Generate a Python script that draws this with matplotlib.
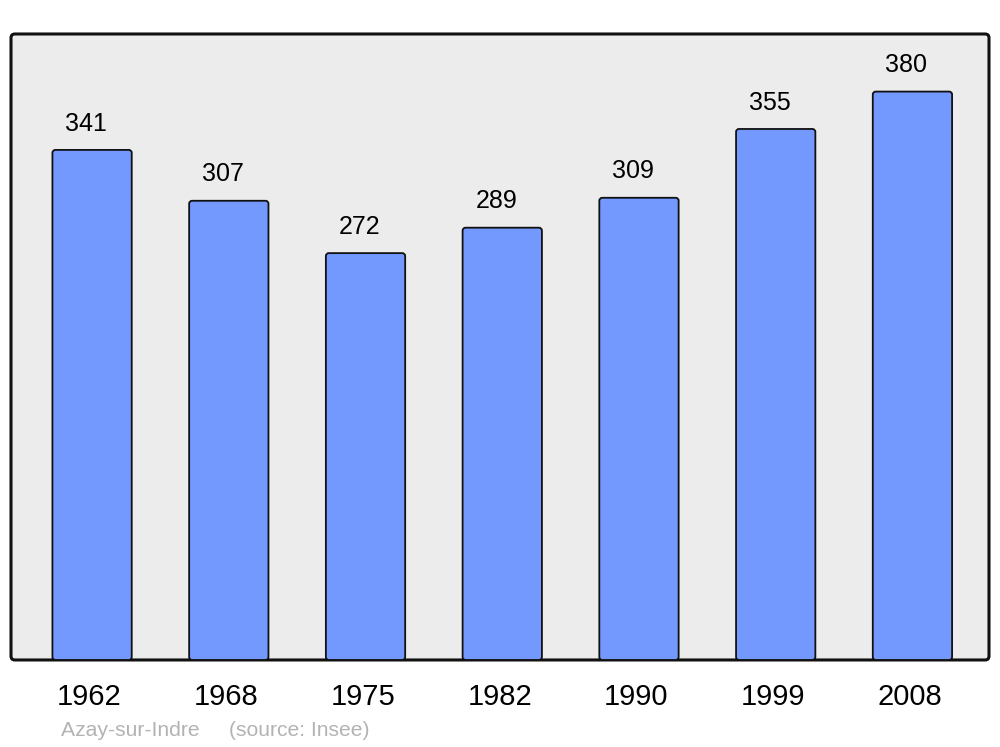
import matplotlib.pyplot as plt
import matplotlib.transforms as mtransforms
from matplotlib.patches import FancyBboxPatch

years = ["1962", "1968", "1975", "1982", "1990", "1999", "2008"]
population = [341, 307, 272, 289, 309, 355, 380]

plt.rcParams['font.family'] = ['Liberation Sans', 'DejaVu Sans']

fig = plt.figure(figsize=(10, 7.47), dpi=100)
ax = fig.add_axes([0.011, 0.1165, 0.978, 0.838])
ax.set_xlim(-0.593, 6.56)
ax.set_ylim(0, 418.5)

# rounded axes frame
for s in ax.spines.values():
    s.set_visible(False)
ax.patch.set_visible(False)
frame = FancyBboxPatch((0, 0), 1, 1, boxstyle="round,pad=0,rounding_size=0.004",
                       mutation_aspect=978 / 626 * 1.0, transform=ax.transAxes,
                       facecolor="#ececec", edgecolor="#111111", linewidth=2.2,
                       clip_on=False, zorder=0)
ax.add_patch(frame)

width = 0.58
for i, (yr, val) in enumerate(zip(years, population)):
    bar = FancyBboxPatch((i - width / 2, 0), width, val,
                         boxstyle="round,pad=0,rounding_size=0.022",
                         mutation_aspect=91.4, facecolor="#7399ff",
                         edgecolor="#111111", linewidth=1.3, zorder=2)
    ax.add_patch(bar)
    ax.annotate(str(val), (i, val), xytext=(-4.3, 19), textcoords="offset points",
                ha="center", va="center", fontsize=18, color="black")

ax.set_xticks(range(len(years)))
ax.set_xticklabels(years, fontsize=21)
ax.tick_params(axis="x", length=0, pad=16.5)
ax.set_yticks([])
shift = mtransforms.ScaledTranslation(-2.5 / 100, 0, fig.dpi_scale_trans)
for lbl in ax.get_xticklabels():
    lbl.set_transform(lbl.get_transform() + shift)

fig.text(0.061, (747 - 730) / 747, "Azay-sur-Indre     (source: Insee)",
         fontsize=15.2, color="#b3b3b3", va="center", ha="left")

fig.savefig("out.png", dpi=100)
